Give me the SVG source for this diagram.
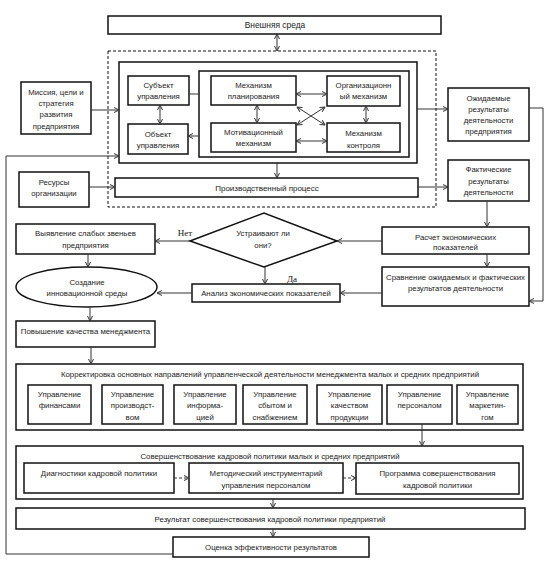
<svg xmlns="http://www.w3.org/2000/svg" width="551" height="566" viewBox="0 0 551 566">
<defs>
<style>
.b{fill:#fff;stroke:#111;stroke-width:1.5}
.t{font-family:"Liberation Sans",Arial,sans-serif;font-size:7.8px;fill:#222;text-anchor:middle;dominant-baseline:central}
.s{font-family:"Liberation Serif","Times New Roman",serif;font-size:9px;fill:#111;text-anchor:middle;dominant-baseline:central}
.c{fill:none;stroke:#333;stroke-width:1}
.a{marker-end:url(#ah)}
.d{marker-end:url(#ah);marker-start:url(#ah)}
.dash{stroke-dasharray:3,2}
</style>
<marker id="ah" viewBox="0 0 6 6" refX="5.5" refY="3" markerWidth="6" markerHeight="6" markerUnits="userSpaceOnUse" orient="auto-start-reverse">
<path d="M0.5,0.5 L5.5,3 L0.5,5.5" fill="none" stroke="#333" stroke-width="1"/>
</marker>
</defs>
<rect width="551" height="566" fill="#fff"/>

<g id="outer-dashed"><rect x="108" y="51" width="328" height="156" fill="none" stroke="#111" stroke-width="1" stroke-dasharray="3,2"/></g>

<g id="env"><rect class="b" x="108" y="16" width="333" height="18"/><text class="t" x="275" y="25" style="font-size:8.4px">Внешняя среда</text></g>

<g id="mgmt-system"><rect class="b" x="119" y="62" width="298" height="101"/></g>
<g id="mechanisms"><rect class="b" x="199" y="71" width="210" height="86"/></g>

<g id="subject"><rect class="b" x="128" y="76" width="61" height="29"/><text class="t" x="158.5" y="85">Субъект</text><text class="t" x="158.5" y="96">управления</text></g>
<g id="object"><rect class="b" x="128" y="124" width="60" height="30"/><text class="t" x="158" y="134">Объект</text><text class="t" x="158" y="145">управления</text></g>
<g id="planning"><rect class="b" x="211" y="76" width="85" height="29"/><text class="t" x="253.5" y="85">Механизм</text><text class="t" x="253.5" y="96">планирования</text></g>
<g id="motivation"><rect class="b" x="211" y="123" width="85" height="29"/><text class="t" x="253.5" y="132">Мотивационный</text><text class="t" x="253.5" y="143">механизм</text></g>
<g id="organization"><rect class="b" x="327" y="76" width="73" height="30"/><text class="t" x="363.5" y="85">Организационн</text><text class="t" x="363.5" y="96">ый механизм</text></g>
<g id="control"><rect class="b" x="327" y="123" width="73" height="29"/><text class="t" x="363.5" y="133">Механизм</text><text class="t" x="363.5" y="145">контроля</text></g>

<g id="mission"><rect class="b" x="21" y="82" width="70" height="52"/><text class="t" x="56" y="92">Миссия, цели и</text><text class="t" x="56" y="103">стратегия</text><text class="t" x="56" y="114">развития</text><text class="t" x="56" y="126">предприятия</text></g>
<g id="resources"><rect class="b" x="19" y="172" width="70" height="35"/><text class="t" x="54" y="182">Ресурсы</text><text class="t" x="54" y="193">организации</text></g>
<g id="production"><rect class="b" x="115" y="178" width="303" height="19"/><text class="t" x="267" y="188" style="font-size:8px">Производственный процесс</text></g>

<g id="expected"><rect class="b" x="448" y="88" width="81" height="53"/><text class="t" x="488.5" y="98">Ожидаемые</text><text class="t" x="488.5" y="109">результаты</text><text class="t" x="488.5" y="120">деятельности</text><text class="t" x="488.5" y="131">предприятия</text></g>
<g id="actual"><rect class="b" x="448" y="160" width="81" height="41"/><text class="t" x="488.5" y="169">Фактические</text><text class="t" x="488.5" y="181">результаты</text><text class="t" x="488.5" y="192">деятельности</text></g>

<g id="weak"><rect class="b" x="16" y="224" width="139" height="30"/><text class="t" x="85.5" y="233">Выявление слабых звеньев</text><text class="t" x="85.5" y="245">предприятия</text></g>
<g id="decision"><polygon points="190,241 264,213 337,241 264,267" fill="#fff" stroke="#111" stroke-width="1.5"/><text class="t" x="263" y="233">Устраивают ли</text><text class="t" x="263" y="245">они?</text></g>
<g id="calc"><rect class="b" x="382" y="227" width="147" height="27"/><text class="t" x="455.5" y="237">Расчет экономических</text><text class="t" x="455.5" y="247">показателей</text></g>
<g id="innov"><ellipse cx="86.5" cy="287" rx="70.5" ry="20" fill="#fff" stroke="#111" stroke-width="1.5"/><text class="t" x="87" y="282">Создание</text><text class="t" x="87" y="293">инновационной среды</text></g>
<g id="analysis"><rect class="b" x="192" y="284" width="148" height="18"/><text class="t" x="266" y="293">Анализ экономических показателей</text></g>
<g id="compare"><rect class="b" x="382" y="267" width="147" height="39"/><text class="t" x="455.5" y="277">Сравнение ожидаемых и фактических</text><text class="t" x="455.5" y="288">результатов деятельности</text></g>
<g id="quality"><rect class="b" x="16" y="321" width="139" height="26"/><text class="t" x="85.5" y="331">Повышение качества менеджмента</text></g>

<g id="correction"><rect class="b" x="16" y="364" width="507" height="66"/><text class="t" x="270" y="374">Корректировка основных направлений управленческой деятельности менеджмента малых и средних предприятий</text></g>
<g id="finance"><rect class="b" x="28" y="385" width="63" height="39"/><text class="t" x="59.5" y="394">Управление</text><text class="t" x="59.5" y="405">финансами</text></g>
<g id="production-mgmt"><rect class="b" x="102" y="385" width="61" height="39"/><text class="t" x="132.5" y="394">Управление</text><text class="t" x="132.5" y="405">производст-</text><text class="t" x="132.5" y="417">вом</text></g>
<g id="info-mgmt"><rect class="b" x="174" y="385" width="62" height="39"/><text class="t" x="205" y="394">Управление</text><text class="t" x="205" y="405">информа-</text><text class="t" x="205" y="417">цией</text></g>
<g id="sales-mgmt"><rect class="b" x="243" y="385" width="64" height="39"/><text class="t" x="275" y="394">Управление</text><text class="t" x="275" y="405">сбытом и</text><text class="t" x="275" y="417">снабжением</text></g>
<g id="quality-mgmt"><rect class="b" x="317" y="385" width="65" height="39"/><text class="t" x="349.5" y="394">Управление</text><text class="t" x="349.5" y="405">качеством</text><text class="t" x="349.5" y="417">продукции</text></g>
<g id="personnel-mgmt"><rect class="b" x="387" y="385" width="65" height="39"/><text class="t" x="419.5" y="394">Управление</text><text class="t" x="419.5" y="405">персоналом</text></g>
<g id="marketing-mgmt"><rect class="b" x="457" y="385" width="61" height="39"/><text class="t" x="487.5" y="394">Управление</text><text class="t" x="487.5" y="405">маркетин-</text><text class="t" x="487.5" y="417">гом</text></g>

<g id="improvement"><rect class="b" x="16" y="446" width="507" height="53"/><text class="t" x="270" y="456">Совершенствование кадровой политики малых и средних предприятий</text></g>
<g id="diagnostics"><rect class="b" x="24" y="463" width="150" height="30"/><text class="t" x="99" y="473">Диагностики кадровой политики</text></g>
<g id="methods"><rect class="b" x="189" y="463" width="154" height="30"/><text class="t" x="266" y="473">Методический инструментарий</text><text class="t" x="266" y="485">управления персоналом</text></g>
<g id="program"><rect class="b" x="356" y="463" width="163" height="31"/><text class="t" x="437.5" y="473">Программа совершенствования</text><text class="t" x="437.5" y="485">кадровой политики</text></g>
<g id="result"><rect class="b" x="16" y="508" width="509" height="21"/><text class="t" x="270" y="519">Результат совершенствования кадровой политики предприятий</text></g>
<g id="evaluation"><rect class="b" x="173" y="537" width="196" height="20"/><text class="t" x="271" y="547">Оценка эффективности результатов</text></g>

<g id="labels"><text class="s" x="185" y="233">Нет</text><text class="s" x="292" y="279">Да</text></g>

<g id="connectors">
<path class="c d" d="M277,34 V51"/>
<path class="c a" d="M91,110 H119"/>
<path class="c a" d="M173,554 H6 V156 H119"/>
<path class="c" d="M189,94 H199"/>
<path class="c a" d="M199,136 H188"/>
<path class="c d" d="M160,105 V124"/>
<path class="c d" d="M257,105 V123"/>
<path class="c d" d="M366,106 V123"/>
<path class="c d" d="M296,94 H327"/>
<path class="c d" d="M296,141 H327"/>
<path class="c d" d="M297,107 L325,125"/>
<path class="c d" d="M325,107 L297,125"/>
<path class="c a" d="M417,109 H448"/>
<path class="c a" d="M277,163 V178"/>
<path class="c a" d="M89,187 H115"/>
<path class="c a" d="M418,187 H448"/>
<path class="c a" d="M529,108 H543 V301 H529"/>
<path class="c a" d="M487,201 V227"/>
<path class="c a" d="M487,254 V267"/>
<path class="c a" d="M382,241 H337"/>
<path class="c a" d="M190,241 H155"/>
<path class="c a" d="M265,267 V284"/>
<path class="c a" d="M382,293 H340"/>
<path class="c a" d="M192,293 H157"/>
<path class="c a" d="M88,254 V267"/>
<path class="c a" d="M90,307 V321"/>
<path class="c a" d="M91,347 V364"/>
<path class="c a" d="M422,424 V446"/>
<path class="c a dash" d="M174,478 H189"/>
<path class="c a dash" d="M343,478 H356"/>
<path class="c a" d="M273,499 V508"/>
<path class="c a" d="M273,529 V537"/>
</g>
</svg>
